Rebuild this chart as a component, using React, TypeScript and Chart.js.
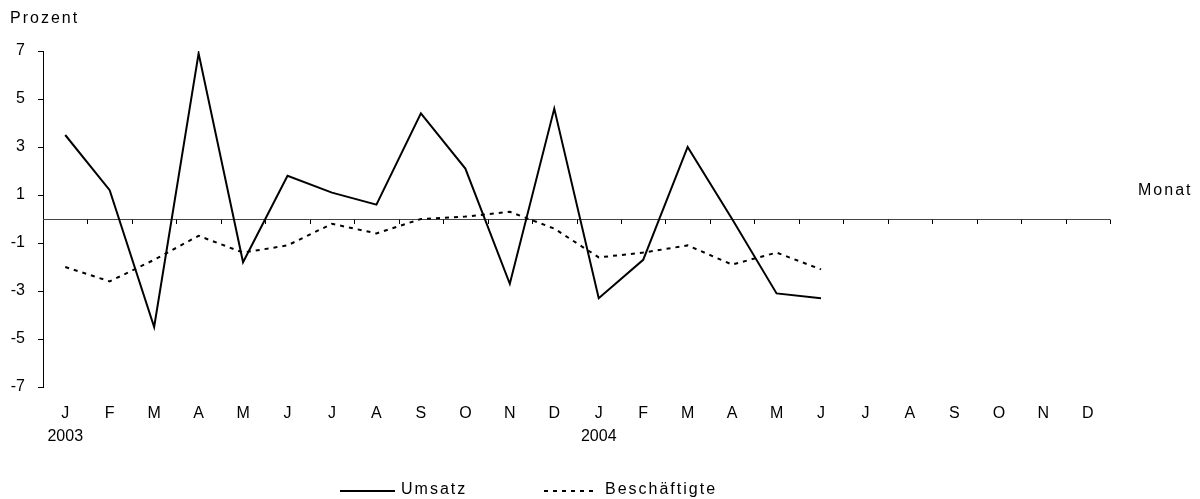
import React, { useEffect, useRef } from 'react';
import { Chart, registerables } from 'chart.js';

Chart.register(...registerables);

const months = ['J', 'F', 'M', 'A', 'M', 'J', 'J', 'A', 'S', 'O', 'N', 'D', 'J', 'F', 'M', 'A', 'M', 'J', 'J', 'A', 'S', 'O', 'N', 'D'];
const yearLabels = ['2003', '2004'];
const umsatz = [3.5, 1.2, -4.5, 6.9, -1.8, 1.8, 1.1, 0.6, 4.4, 2.1, -2.7, 4.6, -3.3, -1.7, 3.0, 0.0, -3.1, -3.3, null, null, null, null, null, null];
const beschaeftigte = [-2.0, -2.6, -1.7, -0.7, -1.4, -1.1, -0.2, -0.6, 0.0, 0.1, 0.3, -0.4, -1.6, -1.4, -1.1, -1.9, -1.4, -2.1, null, null, null, null, null, null];
const yMin = -7;
const yMax = 7;
const yStep = 2;
const seriesNames = ['Umsatz', 'Beschäftigte'];
const yTitle = 'Prozent';
const xTitle = 'Monat';

const FONT = '"Liberation Sans", Arial, sans-serif';
const SPACING = '2px';

const decorPlugin = {
  id: 'decor',
  beforeInit(chart: any) {
    chart.ctx.letterSpacing = SPACING;
  },
  beforeDatasetsDraw(chart: any) {
    const { ctx, chartArea, scales } = chart;
    const x = scales.x;
    const y = scales.y;
    const y0 = y.getPixelForValue(0);
    ctx.save();
    ctx.strokeStyle = '#444';
    ctx.lineWidth = 1;
    ctx.beginPath();
    ctx.moveTo(chartArea.left, Math.round(y0) + 0.5);
    ctx.lineTo(chartArea.right, Math.round(y0) + 0.5);
    ctx.stroke();
    ctx.strokeStyle = '#000';
    for (let i = 0; i < months.length; i++) {
      const px = Math.round(x.getPixelForValue(i) + (x.getPixelForValue(1) - x.getPixelForValue(0)) / 2) + 0.5;
      ctx.beginPath();
      ctx.moveTo(px, Math.round(y0) + 0.5);
      ctx.lineTo(px, Math.round(y0) + 5);
      ctx.stroke();
    }
    ctx.restore();
  },
  afterDraw(chart: any) {
    const { ctx, chartArea } = chart;
    ctx.save();
    ctx.letterSpacing = SPACING;
    ctx.fillStyle = '#000';
    ctx.font = `16px ${FONT}`;
    ctx.textBaseline = 'middle';
    ctx.textAlign = 'left';
    ctx.fillText(yTitle, 10, 19);
    ctx.fillText(xTitle, chartArea.right + 28, 191);
    // legend
    const ly = 491;
    ctx.strokeStyle = '#000';
    ctx.lineWidth = 2;
    ctx.beginPath();
    ctx.moveTo(340, ly);
    ctx.lineTo(395, ly);
    ctx.stroke();
    ctx.fillText(seriesNames[0], 401, ly - 1);
    ctx.setLineDash([4, 5]);
    ctx.beginPath();
    ctx.moveTo(544, ly);
    ctx.lineTo(597, ly);
    ctx.stroke();
    ctx.setLineDash([]);
    ctx.fillText(seriesNames[1], 605, ly - 1);
    ctx.restore();
  },
};

export default function App() {
  const ref = useRef<HTMLCanvasElement>(null);
  useEffect(() => {
    if (!ref.current) return;
    const labels = months.map((m, i) => (i === 0 ? [m, yearLabels[0]] : i === 12 ? [m, yearLabels[1]] : m));
    const chart = new Chart(ref.current, {
      type: 'line',
      data: {
        labels,
        datasets: [
          {
            label: seriesNames[0],
            data: umsatz,
            borderColor: '#000',
            borderWidth: 2,
            pointRadius: 0,
            tension: 0,
            fill: false,
          },
          {
            label: seriesNames[1],
            data: beschaeftigte,
            borderColor: '#000',
            borderWidth: 2,
            borderDash: [4, 5],
            pointRadius: 0,
            tension: 0,
            fill: false,
          },
        ],
      },
      options: {
        responsive: false,
        animation: false,
        layout: { padding: { top: 51, right: 90, left: 0, bottom: 0 } },
        plugins: { legend: { display: false }, tooltip: { enabled: false } },
        scales: {
          x: {
            type: 'category',
            offset: true,
            grid: { display: false, drawTicks: false },
            border: { display: false },
            ticks: {
              color: '#000',
              padding: 15,
              maxRotation: 0,
              autoSkip: false,
              font: { family: FONT, size: 16, lineHeight: 1.4375 },
            },
            afterFit: (s: any) => {
              s.height = 112;
            },
          },
          y: {
            min: yMin,
            max: yMax,
            grid: { display: true, drawOnChartArea: false, drawTicks: true, tickLength: 5, tickColor: '#000', color: '#000' },
            border: { display: true, color: '#000', width: 1 },
            ticks: {
              stepSize: yStep,
              color: '#000',
              padding: 13,
              font: { family: FONT, size: 16 },
            },
            afterFit: (s: any) => {
              s.width = 43;
            },
          },
        },
      },
      plugins: [decorPlugin],
    });
    return () => chart.destroy();
  }, []);
  return (
    <div style={{ position: 'absolute', left: 0, top: 0, width: 1200, height: 499, background: '#fff' }}>
      <canvas ref={ref} width={1200} height={499} style={{ display: 'block' }} />
    </div>
  );
}
